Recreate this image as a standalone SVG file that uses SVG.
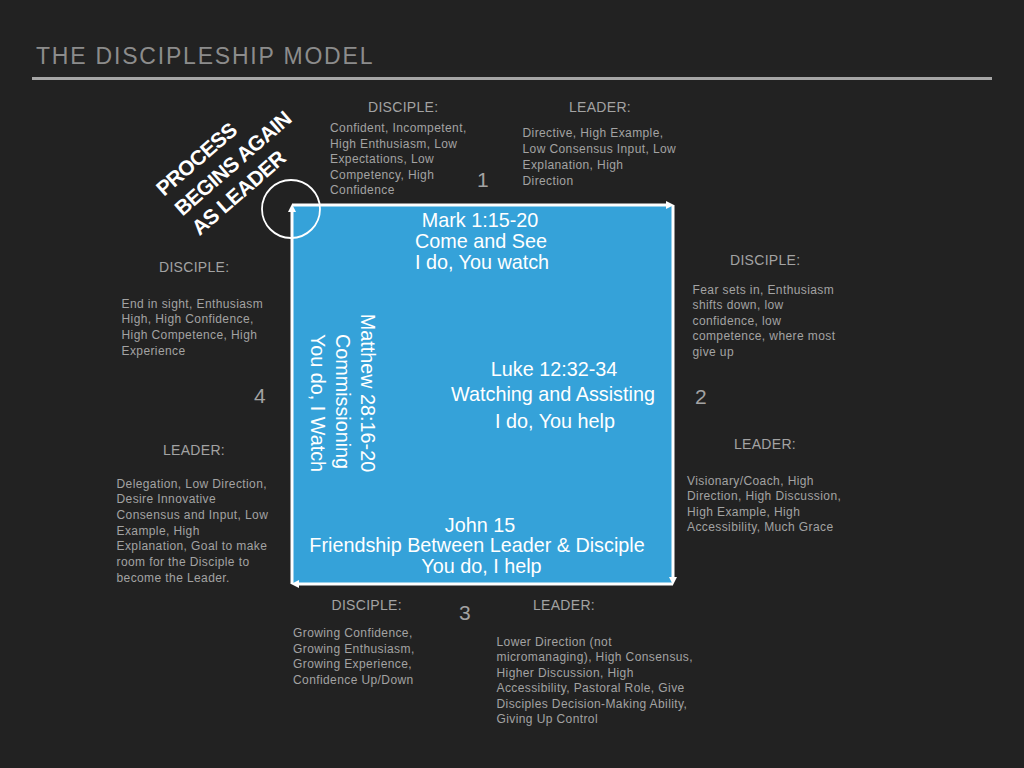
<svg xmlns="http://www.w3.org/2000/svg" width="1024" height="768" viewBox="0 0 1024 768">
<defs>
<style>
.t{font-family:"Liberation Sans",Arial,sans-serif;fill:#a3a3a3;font-size:12px;letter-spacing:0.4px}
.h{font-family:"Liberation Sans",Arial,sans-serif;fill:#a3a3a3;font-size:14px;letter-spacing:0.3px}
.n{font-family:"Liberation Sans",Arial,sans-serif;fill:#a3a3a3;font-size:21px}
.w{font-family:"Liberation Sans",Arial,sans-serif;fill:#ffffff;font-size:19.8px;text-anchor:middle}
.b{font-family:"Liberation Sans",Arial,sans-serif;fill:#ffffff;font-size:21px;font-weight:bold;letter-spacing:-0.6px}
.edge{stroke:#ffffff;stroke-width:3;fill:none;marker-end:url(#ah)}
</style>
<marker id="ah" markerUnits="userSpaceOnUse" markerWidth="8" markerHeight="8" refX="4" refY="4" orient="auto">
<path d="M0,0 L8,4 L0,8 z" fill="#ffffff"/>
</marker>
</defs>
<rect x="0" y="0" width="1024" height="768" fill="#222222"/>
<g id="title">
<text x="36" y="64" style="font-family:'Liberation Sans',Arial,sans-serif;fill:#8c8c8c;font-size:23px;letter-spacing:1.8px">THE DISCIPLESHIP MODEL</text>
<line x1="32" y1="78.5" x2="992" y2="78.5" stroke="#a6a6a6" stroke-width="3"/>
</g>
<g id="cycle-square">
<rect x="292" y="205" width="381" height="379" fill="#35a2d9"/>
</g>
<g id="connectors">
<line class="edge" x1="292" y1="584" x2="292" y2="208"/>
<line class="edge" x1="292" y1="205" x2="670" y2="205"/>
<line class="edge" x1="673" y1="205" x2="673" y2="581"/>
<line class="edge" x1="673" y1="584" x2="295" y2="584"/>
</g>
<g id="restart-marker">
<circle cx="291" cy="209" r="29" fill="none" stroke="#ffffff" stroke-width="1.8"/>
<g transform="translate(164,197) rotate(-41)">
<text class="b" x="0" y="0">PROCESS</text>
<text class="b" x="1" y="27">BEGINS AGAIN</text>
<text class="b" x="1" y="53">AS LEADER</text>
</g>
</g>
<g id="stage1">
<text class="w" x="480" y="227">Mark 1:15-20</text>
<text class="w" x="481" y="248">Come and See</text>
<text class="w" x="482" y="269">I do, You watch</text>
<text class="h" x="368" y="112">DISCIPLE:</text>
<text class="t" x="330" y="132">Confident, Incompetent,</text>
<text class="t" x="330" y="147.5">High Enthusiasm, Low</text>
<text class="t" x="330" y="163">Expectations, Low</text>
<text class="t" x="330" y="178.5">Competency, High</text>
<text class="t" x="330" y="194">Confidence</text>
<text class="n" x="477" y="187">1</text>
<text class="h" x="569" y="112">LEADER:</text>
<text class="t" x="522.5" y="137">Directive, High Example,</text>
<text class="t" x="522.5" y="153">Low Consensus Input, Low</text>
<text class="t" x="522.5" y="169">Explanation, High</text>
<text class="t" x="522.5" y="184.5">Direction</text>
</g>
<g id="stage2">
<text class="w" x="554" y="376">Luke 12:32-34</text>
<text class="w" x="553" y="401">Watching and Assisting</text>
<text class="w" x="555" y="428">I do, You help</text>
<text class="h" x="730" y="265">DISCIPLE:</text>
<text class="t" x="692.5" y="293.5">Fear sets in, Enthusiasm</text>
<text class="t" x="692.5" y="309">shifts down, low</text>
<text class="t" x="692.5" y="324.5">confidence, low</text>
<text class="t" x="692.5" y="340">competence, where most</text>
<text class="t" x="692.5" y="355.5">give up</text>
<text class="n" x="695" y="403.5">2</text>
<text class="h" x="734" y="448.5">LEADER:</text>
<text class="t" x="687" y="484.5">Visionary/Coach, High</text>
<text class="t" x="687" y="500">Direction, High Discussion,</text>
<text class="t" x="687" y="515.5">High Example, High</text>
<text class="t" x="687" y="531">Accessibility, Much Grace</text>
</g>
<g id="stage3">
<text class="w" x="480" y="531.5">John 15</text>
<text class="w" x="477" y="552">Friendship Between Leader &amp; Disciple</text>
<text class="w" x="481.5" y="573">You do, I help</text>
<text class="h" x="331.5" y="609.5">DISCIPLE:</text>
<text class="t" x="293" y="636.5">Growing Confidence,</text>
<text class="t" x="293" y="652.5">Growing Enthusiasm,</text>
<text class="t" x="293" y="668">Growing Experience,</text>
<text class="t" x="293" y="683.5">Confidence Up/Down</text>
<text class="n" x="459" y="619.5">3</text>
<text class="h" x="533" y="609.5">LEADER:</text>
<text class="t" x="496.5" y="645.5">Lower Direction (not</text>
<text class="t" x="496.5" y="661">micromanaging), High Consensus,</text>
<text class="t" x="496.5" y="676.5">Higher Discussion, High</text>
<text class="t" x="496.5" y="692">Accessibility, Pastoral Role, Give</text>
<text class="t" x="496.5" y="707.5">Disciples Decision-Making Ability,</text>
<text class="t" x="496.5" y="723">Giving Up Control</text>
</g>
<g id="stage4">
<g transform="rotate(90)">
<text class="w" x="393" y="-361">Matthew 28:16-20</text>
<text class="w" x="401.5" y="-336">Commissioning</text>
<text class="w" x="403" y="-311">You do, I Watch</text>
</g>
<text class="h" x="159" y="272">DISCIPLE:</text>
<text class="t" x="121.5" y="307.5">End in sight, Enthusiasm</text>
<text class="t" x="121.5" y="323">High, High Confidence,</text>
<text class="t" x="121.5" y="339">High Competence, High</text>
<text class="t" x="121.5" y="354.5">Experience</text>
<text class="n" x="254" y="403">4</text>
<text class="h" x="163" y="455">LEADER:</text>
<text class="t" x="116.5" y="487.5">Delegation, Low Direction,</text>
<text class="t" x="116.5" y="503">Desire Innovative</text>
<text class="t" x="116.5" y="519">Consensus and Input, Low</text>
<text class="t" x="116.5" y="534.5">Example, High</text>
<text class="t" x="116.5" y="550">Explanation, Goal to make</text>
<text class="t" x="116.5" y="566">room for the Disciple to</text>
<text class="t" x="116.5" y="581.5">become the Leader.</text>
</g>
</svg>
